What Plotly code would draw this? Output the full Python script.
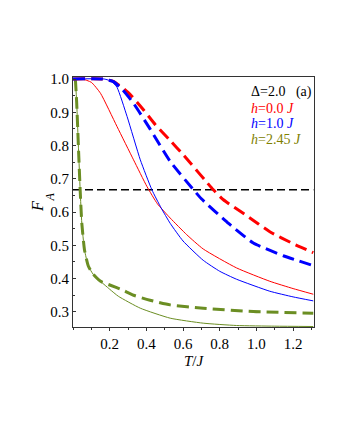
import plotly.graph_objects as go

# red: h = 0.0 J
t_red_dash = [0.0, 0.16, 0.22, 0.3, 0.385, 0.45, 0.53, 0.6, 0.765, 0.82, 0.95, 1.073, 1.2, 1.31]
f_red_dash = [1.0, 1.0, 0.993, 0.96, 0.907, 0.862, 0.815, 0.773, 0.667, 0.637, 0.588, 0.541, 0.505, 0.478]
t_red = [0.0, 0.05, 0.1, 0.15, 0.24, 0.33, 0.403, 0.46, 0.53, 0.62, 0.71, 0.892, 1.073, 1.2, 1.31]
f_red = [1.0, 1.0, 0.99, 0.957, 0.857, 0.757, 0.677, 0.625, 0.582, 0.532, 0.489, 0.432, 0.392, 0.37, 0.353]

# blue: h = 1.0 J
t_blue_dash = [0.0, 0.16, 0.22, 0.27, 0.33, 0.42, 0.53, 0.657, 0.7, 0.85, 0.983, 1.15, 1.31]
f_blue_dash = [1.0, 1.0, 0.992, 0.968, 0.927, 0.85, 0.752, 0.667, 0.64, 0.565, 0.507, 0.468, 0.439]
t_blue = [0.0, 0.17, 0.21, 0.24, 0.295, 0.367, 0.43, 0.48, 0.53, 0.6, 0.71, 0.8, 0.892, 1.073, 1.2, 1.31]
f_blue = [1.0, 1.0, 0.993, 0.975, 0.887, 0.757, 0.667, 0.613, 0.566, 0.513, 0.455, 0.422, 0.398, 0.362, 0.345, 0.333]

# green: h = 2.45 J
t_green = [0.013, 0.02, 0.03, 0.039, 0.048, 0.0625, 0.084, 0.11, 0.139, 0.2, 0.247, 0.367, 0.53, 0.71, 0.892, 1.1, 1.31]
f_green = [1.0, 0.93, 0.79, 0.667, 0.567, 0.487, 0.437, 0.413, 0.397, 0.368, 0.347, 0.311, 0.281, 0.266, 0.259, 0.257, 0.256]
t_green_dash = [0.013, 0.02, 0.03, 0.039, 0.048, 0.0625, 0.084, 0.11, 0.139, 0.157, 0.204, 0.265, 0.33, 0.42, 0.53, 0.71, 0.983, 1.31]
f_green_dash = [1.0, 0.93, 0.79, 0.667, 0.567, 0.487, 0.437, 0.413, 0.397, 0.39, 0.38, 0.367, 0.35, 0.335, 0.321, 0.311, 0.301, 0.296]

t_ref = [0.0, 1.31]
f_ref = [0.6667, 0.6667]

x_ticks = [0.2, 0.4, 0.6, 0.8, 1.0, 1.2]
y_ticks = [0.3, 0.4, 0.5, 0.6, 0.7, 0.8, 0.9, 1.0]

SERIF = "Liberation Serif"
GREEN = "#6b8e23"

fig = go.Figure()

def add(x, y, color, width, dash="solid"):
    fig.add_trace(go.Scatter(x=x, y=y, mode="lines",
                             line=dict(color=color, width=width, dash=dash,
                                       shape="spline", smoothing=0.5),
                             showlegend=False, hoverinfo="skip"))

add(t_ref, f_ref, "black", 1.5, "8px,4px")
add(t_red, f_red, "#ff0000", 1)
add(t_blue, f_blue, "#0000ff", 1)
add(t_green, f_green, GREEN, 1)
add(t_green_dash, f_green_dash, GREEN, 3, "12px,6px")
add(t_red_dash, f_red_dash, "#ff0000", 3, "12px,6px")
add(t_blue_dash, f_blue_dash, "#0000ff", 3, "12px,6px")

labels = [
    ("\u0394=2.0   (a)", "black", 0.940),
    ("<i>h</i>=0.0 <i>J</i>", "#ff0000", 0.874),
    ("<i>h</i>=1.0 <i>J</i>", "#0000ff", 0.812),
    ("<i>h</i>=2.45 <i>J</i>", "#808000", 0.749),
]
for text, col, yy in labels:
    fig.add_annotation(x=0.73, y=yy, xref="paper", yref="paper", text=text,
                       showarrow=False, xanchor="left", yanchor="middle",
                       font=dict(family=SERIF, size=14, color=col))

# y axis label F_A, with the subscript set well off as in the original
fig.add_annotation(x=-0.188, y=0.481, xref="paper", yref="paper", text="<i>F</i>",
                   showarrow=False, textangle=-90,
                   font=dict(family=SERIF, size=16, color="black"))
fig.add_annotation(x=-0.132, y=0.519, xref="paper", yref="paper", text="<i>A</i>",
                   showarrow=False, textangle=-90,
                   font=dict(family=SERIF, size=12, color="black"))

fig.update_xaxes(range=[0, 1.314], tickvals=x_ticks, ticktext=[f"{v:.1f}" for v in x_ticks],
                 showgrid=False, zeroline=False, showline=True, linecolor="#333333",
                 linewidth=1, mirror=True, ticks="outside", ticklen=3, tickcolor="#333333",
                 minor=dict(dtick=0.1, tick0=0, ticks="outside", ticklen=2, tickcolor="#333333"),
                 tickfont=dict(family=SERIF, size=15, color="black"),
                 title=dict(text="<i>T</i>/<i>J</i>", standoff=4,
                            font=dict(family=SERIF, size=15, color="black")))
fig.update_yaxes(range=[0.2545, 1.006], tickvals=y_ticks, ticktext=[f"{v:.1f}" for v in y_ticks],
                 showgrid=False, zeroline=False, showline=True, linecolor="#333333",
                 linewidth=1, mirror=True, ticks="inside", ticklen=3, tickcolor="#333333",
                 minor=dict(dtick=0.05, tick0=0, ticks="inside", ticklen=2, tickcolor="#333333"),
                 tickfont=dict(family=SERIF, size=15, color="black"))

# page body adds an 8px offset, so margins are shifted accordingly
fig.update_layout(width=340, height=440, plot_bgcolor="white", paper_bgcolor="white",
                  margin=dict(l=64.5, r=33.7, t=69, b=120.5))

fig.write_html("out.html")
